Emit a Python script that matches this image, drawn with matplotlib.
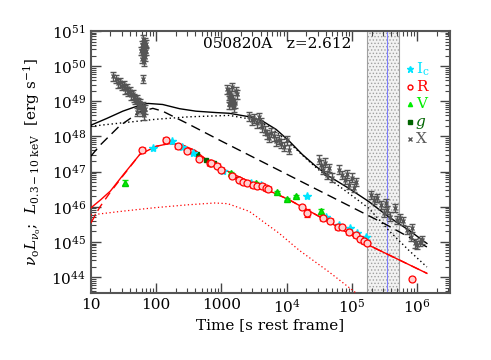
import numpy as np
import matplotlib
matplotlib.use('Agg')
import matplotlib.pyplot as plt
from matplotlib.ticker import LogLocator, FixedLocator, NullFormatter

plt.rcParams['font.family'] = ['DejaVu Serif']
plt.rcParams['mathtext.fontset'] = 'dejavuserif'
plt.rcParams['hatch.color'] = '#b8b8b8'
plt.rcParams['hatch.linewidth'] = 0.6

# ---------------- data (log10 values) ----------------
# X-ray (0.3-10 keV) luminosity
x_logt = [1.336, 1.382, 1.412, 1.443, 1.473, 1.504, 1.519, 1.55, 1.565, 1.595,
          1.611, 1.641, 1.656, 1.672, 1.702, 1.718, 1.733, 1.748, 1.763, 1.794,
          1.779, 1.824, 1.809, 1.702,
          1.794, 1.824, 1.779, 1.809, 1.84, 1.794, 1.824, 1.779, 1.809, 1.84, 1.763, 1.794,
          3.09, 3.12, 3.15, 3.11, 3.18, 3.14, 3.21, 3.17, 3.24, 3.2, 3.23, 3.12, 3.17,
          3.43, 3.47, 3.5, 3.55, 3.61, 3.63, 3.67, 3.7, 3.73, 3.76, 3.81, 3.84,
          3.89, 3.92, 3.96, 4.0, 4.04, 3.58,
          4.5, 4.53, 4.56, 4.59, 4.62, 4.65, 4.69, 4.85, 4.89, 4.92, 4.95, 5.0,
          5.03, 5.06, 4.8,
          5.29, 5.34, 5.39, 5.44, 5.52, 5.5, 5.54, 5.59, 5.66, 5.69, 5.74, 5.79,
          5.84, 5.9, 5.92, 5.97, 6.0, 6.04, 6.08]
x_logL = [49.71, 49.63, 49.51, 49.54, 49.43, 49.46, 49.34, 49.37, 49.26, 49.29,
          49.17, 49.2, 49.09, 49.03, 49.06, 48.97, 48.89, 48.94, 48.83, 48.86,
          48.71, 48.77, 48.6, 48.69,
          50.77, 50.69, 50.6, 50.51, 50.43, 50.34, 50.26, 50.2, 50.11, 50.63, 50.43, 49.63,
          49.34, 49.26, 49.17, 49.11, 49.06, 49.0, 48.94, 48.89, 49.2, 48.83, 49.29, 48.91, 49.4,
          48.57, 48.46, 48.51, 48.37, 48.4, 48.26, 48.17, 48.06, 47.97, 48.11, 48.0, 47.86,
          47.91, 47.8, 47.71, 47.89, 47.63, 48.54,
          47.34, 47.2, 47.06, 47.26, 46.91, 47.11, 46.83, 46.91, 46.77, 46.94, 46.63, 46.83,
          46.54, 46.71, 47.06,
          46.34, 46.2, 46.25, 46.06, 46.11, 45.83, 45.91, 45.72, 45.97, 45.63, 45.68, 45.6,
          45.34, 45.15, 45.4, 44.96, 44.91, 45.0, 45.05]
X_ERR = 0.12

# R band
r_logt = [1.79, 2.145, 2.33, 2.48, 2.66, 2.82, 2.84, 2.94, 3.0, 3.17, 3.27, 3.33,
          3.40, 3.48, 3.55, 3.63, 3.68, 3.72, 4.24, 4.32, 4.55, 4.67, 4.78, 4.85,
          4.95, 5.06, 5.13, 5.18, 5.23, 5.92]
r_logL = [47.63, 47.91, 47.74, 47.6, 47.37, 47.26, 47.25, 47.15, 47.05, 46.87, 46.77, 46.72,
          46.68, 46.63, 46.6, 46.58, 46.53, 46.5, 46.01, 45.82, 45.68, 45.61, 45.42, 45.42,
          45.29, 45.2, 45.1, 45.04, 44.98, 43.94]
r_err = [0.03] * 19 + [0.12] + [0.03] * 10

# Ic band
i_logt = [1.95, 2.24, 2.39, 2.56, 3.02, 3.45, 3.6, 4.32, 4.6, 4.8, 4.97, 5.08, 5.21]
i_logL = [47.66, 47.86, 47.71, 47.54, 47.01, 46.68, 46.62, 46.31, 45.72, 45.49, 45.39, 45.25, 45.15]

# V band
v_logt = [1.53, 2.87, 3.15, 3.53, 3.86, 4.01, 4.14, 4.52]
v_logL = [46.69, 47.25, 46.96, 46.68, 46.41, 46.22, 46.30, 45.87]
v_err = [0.07, 0.03, 0.03, 0.03, 0.03, 0.03, 0.03, 0.07]

# g band
g_logt = [2.63, 2.77, 2.89, 3.25]
g_logL = [47.49, 47.34, 47.26, 46.8]

# model curves
tot_logt = [1.0, 1.24, 1.49, 1.75, 1.875, 2.1, 2.36, 2.61, 2.92, 3.12, 3.43, 3.63,
            3.84, 4.04, 4.24, 4.45, 4.65, 4.95, 5.26, 5.56, 5.87, 6.15]
tot_logL = [48.32, 48.51, 48.72, 48.89, 48.94, 48.91, 48.79, 48.72, 48.68, 48.66, 48.56, 48.44,
            48.2, 47.87, 47.49, 47.15, 46.87, 46.53, 46.15, 45.72, 45.34, 44.96]
dsh_logt = [1.0, 1.14, 1.44, 1.75, 1.95, 2.1, 2.5, 3.0, 3.5, 4.0, 4.5, 5.0, 5.5, 6.15]
dsh_logL = [47.44, 47.75, 48.3, 48.7, 48.8, 48.72, 48.35, 47.87, 47.4, 46.93, 46.46, 45.99,
            45.52, 44.86]
dot_logt = [1.0, 1.49, 2.0, 2.51, 2.82, 3.12, 3.43, 3.73, 4.04, 4.34, 4.65, 4.95, 5.26,
            5.56, 5.87, 6.15]
dot_logL = [48.29, 48.39, 48.49, 48.56, 48.58, 48.6, 48.5, 48.29, 47.82, 47.3, 46.8, 46.39,
            45.96, 45.34, 44.77, 44.29]

opt_logt = [1.0, 1.15, 1.3, 1.5, 1.75, 2.0, 2.2, 2.4, 2.6, 2.82, 3.0, 3.43, 4.04, 4.65,
            5.26, 6.15]
opt_logL = [45.97, 46.2, 46.45, 46.92, 47.49, 47.72, 47.8, 47.76, 47.6, 47.26, 47.1, 46.71,
            46.2, 45.57, 44.91, 44.11]
optd_logt = [1.0, 1.14, 1.3, 1.5, 1.75, 2.0, 2.2, 2.4, 2.6, 2.82, 3.0, 3.43, 4.04, 4.65,
             5.26, 6.15]
optd_logL = [45.54, 46.0, 46.42, 46.9, 47.49, 47.72, 47.8, 47.76, 47.6, 47.26, 47.1, 46.71,
             46.2, 45.57, 44.91, 44.11]
optdot_logt = [1.0, 1.5, 2.0, 2.5, 2.9, 3.1, 3.43, 3.7, 3.885, 4.19, 4.65, 5.1]
optdot_logL = [45.77, 45.88, 45.98, 46.06, 46.11, 46.09, 45.87, 45.5, 45.25, 44.77, 44.15, 43.5]

band_lo, band_hi, blue_t = 1.7e5, 5.2e5, 3.4e5

# ---------------- plot ----------------
def p(a):
    return 10 ** np.asarray(a, dtype=float)

fig = plt.figure(figsize=(4.91, 3.60), dpi=100)
ax = fig.add_axes([0.185, 0.186, 0.731, 0.728])
ax.set_xscale('log')
ax.set_yscale('log')
ax.set_xlim(10, 10 ** 6.5)
ax.set_ylim(10 ** 43.55, 1e51)

ax.axvspan(band_lo, band_hi, facecolor='#f2f2f2', edgecolor='#a0a0a0', hatch='.....',
           lw=0.8, zorder=0)
ax.axvline(blue_t, color='#8080ff', lw=0.8, zorder=1)

ax.plot(p(tot_logt), p(tot_logL), color='black', lw=1.0, zorder=3)
ax.plot(p(dsh_logt), p(dsh_logL), color='black', lw=1.0, ls=(0, (7, 4)), zorder=3)
ax.plot(p(dot_logt), p(dot_logL), color='black', lw=1.0, ls=(0, (1, 2)), zorder=3)
ax.plot(p(opt_logt), p(opt_logL), color='red', lw=1.0, zorder=3)
ax.plot(p(optd_logt), p(optd_logL), color='red', lw=1.0, ls=(0, (6, 4)), zorder=3)
ax.plot(p(optdot_logt), p(optdot_logL), color='red', lw=0.9, ls=(0, (1, 2)), zorder=3)

xL = np.asarray(x_logL)
ax.errorbar(p(x_logt), p(xL), yerr=[p(xL) - p(xL - X_ERR), p(xL + X_ERR) - p(xL)],
            fmt='x', color='#555555', ms=3.5, mew=1.0, elinewidth=1.0, capsize=2.2,
            capthick=1.0, zorder=4)

vL = np.asarray(v_logL); ve = np.asarray(v_err)
ax.errorbar(p(v_logt), p(vL), yerr=[p(vL) - p(vL - ve), p(vL + ve) - p(vL)],
            fmt='^', color='#00ee00', ms=4, mec='#00cc00', elinewidth=0.8, capsize=2, zorder=5)
ax.plot(p(g_logt), p(g_logL), 's', color='#006400', ms=3.5, zorder=5)
ax.plot(p(i_logt), p(i_logL), '*', color='#00e5ff', ms=6, zorder=5)
rL = np.asarray(r_logL); re = np.asarray(r_err)
ax.errorbar(p(r_logt), p(rL), yerr=[p(rL) - p(rL - re), p(rL + re) - p(rL)],
            xerr=[p(r_logt) * 0.08, p(r_logt) * 0.08],
            fmt='o', mfc='#ffd0d0', mec='red', color='red', ms=5, mew=0.9,
            elinewidth=0.7, capsize=2, zorder=6)

# legend drawn by hand
leg = [('*', '#00e5ff', r'I$_{\rm c}$', 'normal', 5),
       ('o', 'red', 'R', 'normal', 3.5),
       ('^', '#00ee00', 'V', 'normal', 3),
       ('s', '#006400', 'g', 'italic', 3),
       ('x', '#5a5a5a', 'X', 'normal', 3)]
ys = [0.855, 0.786, 0.721, 0.653, 0.588]
for (m, c, lab, st, ms), yy in zip(leg, ys):
    ax.plot([0.889], [yy], m, color=c, ms=ms, mfc=('none' if m == 'o' else c),
            transform=ax.transAxes, clip_on=False, zorder=7)
    ax.text(0.905, yy, lab, color=c, fontsize=11, style=st, va='center', ha='left',
            transform=ax.transAxes, zorder=7)

ax.text(0.518, 0.95, '050820A   z=2.612', fontsize=11, ha='center', va='center',
        transform=ax.transAxes)

ax.set_xticks([10, 100, 1000, 1e4, 1e5, 1e6])
ax.set_xticklabels(['10', '100', '1000', r'10$^4$', r'10$^5$', r'10$^6$'])
yt = [1e44, 1e45, 1e46, 1e47, 1e48, 1e49, 1e50, 1e51]
ax.yaxis.set_major_locator(FixedLocator(yt))
ax.set_yticklabels([r'10$^{%d}$' % k for k in range(44, 52)])
ax.xaxis.set_minor_locator(LogLocator(base=10, subs=np.arange(2, 10), numticks=20))
ax.yaxis.set_minor_locator(LogLocator(base=10, subs=np.arange(2, 10), numticks=20))
ax.xaxis.set_minor_formatter(NullFormatter())
ax.yaxis.set_minor_formatter(NullFormatter())
ax.tick_params(which='both', direction='in', top=True, right=True, color='#444444',
               labelsize=11)
ax.tick_params(which='major', length=7, width=1)
ax.tick_params(which='minor', length=3.5, width=0.8)
for s in ax.spines.values():
    s.set_color('#555555')
    s.set_linewidth(1.5)

ax.set_xlabel('Time [s rest frame]', fontsize=11, labelpad=2)
ax.set_ylabel(r'$\nu_{\rm o}L_{\nu_{\rm o}}$;  $L_{\rm 0.3-10\ keV}$  [erg s$^{-1}$]',
              fontsize=11, labelpad=6)

fig.savefig('out.png', dpi=100)
